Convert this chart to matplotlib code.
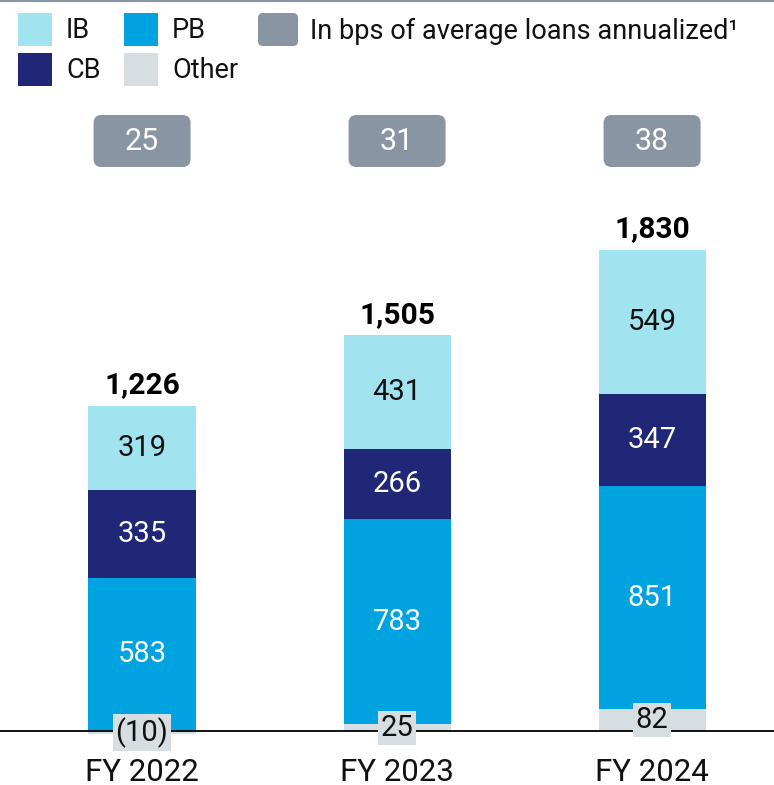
import numpy as np
import matplotlib
matplotlib.use('Agg')
from matplotlib import pyplot as plt
from matplotlib.patches import FancyBboxPatch, Rectangle
from matplotlib.transforms import Affine2D

years = ['FY 2022', 'FY 2023', 'FY 2024']
other = [-10, 25, 82]
pb = [583, 783, 851]
cb = [335, 266, 347]
ib = [319, 431, 549]
totals = ['1,226', '1,505', '1,830']
bps = ['25', '31', '38']

c_ib = '#A2E3F0'
c_pb = '#00A3E0'
c_cb = '#1F2776'
c_other = '#D7DEE1'
c_box = '#8995A2'

plt.rcParams['font.family'] = ['Roboto', 'DejaVu Sans']

W, H = 774, 785
fig = plt.figure(figsize=(W / 100, H / 100), dpi=100)
ax = fig.add_axes([0, 0, 1, 1])
ax.set_xlim(-0.557, 2.478)
ax.set_ylim(-205, 2779)
ax.axis('off')

# pixel coords from top-left
pix = Affine2D().scale(1 / W, -1 / H).translate(0, 1) + fig.transFigure

x = np.arange(len(years))
w = 0.42
other = np.array(other)
pos_other = np.maximum(other, 0)
ax.bar(x, other, w, color=c_other, zorder=2)
ax.bar(x, pb, w, bottom=pos_other, color=c_pb, zorder=2)
b2 = pos_other + np.array(pb)
ax.bar(x, cb, w, bottom=b2, color=c_cb, zorder=2)
b3 = b2 + np.array(cb)
ax.bar(x, ib, w, bottom=b3, color=c_ib, zorder=2)
top = b3 + np.array(ib)

ax.axhline(0, color='black', lw=1.3, zorder=3)

fs = 21
for i in range(len(x)):
    ax.text(x[i], pos_other[i] + pb[i] / 2, str(pb[i]), ha='center', va='center',
            color='white', fontsize=fs, zorder=4)
    ax.text(x[i], b2[i] + cb[i] / 2, str(cb[i]), ha='center', va='center',
            color='white', fontsize=fs, zorder=4)
    ax.text(x[i], b3[i] + ib[i] / 2, str(ib[i]), ha='center', va='center',
            color='#111111', fontsize=fs, zorder=4)
    lab = str(other[i]) if other[i] >= 0 else '(%d)' % abs(other[i])
    ax.text(x[i], other[i] / 2, lab, ha='center', va='center', color='#111111',
            fontsize=fs, zorder=4,
            bbox=dict(boxstyle='square,pad=0.1', fc=c_other, ec='none'))
    ax.annotate(totals[i], (x[i], top[i]), xytext=(0, 9), textcoords='offset points',
                ha='center', va='baseline', fontsize=21.5, fontweight='bold', color='black')
    ax.annotate(years[i], (x[i], 0), xytext=(0, -29.5), textcoords='offset points',
                ha='center', va='center', fontsize=22.5, color='#111111')
    # rounded grey bps boxes
    cx = ax.transData.transform((x[i], 0))[0]
    fig.patches.append(FancyBboxPatch((cx - 48.5, 115), 97, 52,
                                      boxstyle='round,pad=0,rounding_size=8',
                                      fc=c_box, ec='none', transform=pix))
    fig.text(cx / W, 1 - 141 / H, bps[i], ha='center', va='center', color='white',
             fontsize=22)

# legend
items = [(18, 13, c_ib, 'IB'), (124, 13, c_pb, 'PB'),
         (18, 53, c_cb, 'CB'), (124, 53, c_other, 'Other')]
for lx, ly, col, txt in items:
    fig.patches.append(Rectangle((lx, ly), 34, 33, fc=col, ec='none', transform=pix))
    fig.text((lx + 48) / W, 1 - (ly + 18) / H, txt, ha='left', va='center',
             fontsize=19.5, color='#111111')
fig.patches.append(FancyBboxPatch((258, 13), 40, 33, boxstyle='round,pad=0,rounding_size=5',
                                  fc=c_box, ec='none', transform=pix))
fig.text(310 / W, 1 - 31 / H, 'In bps of average loans annualized\u00b9', ha='left',
         va='center', fontsize=19.5, color='#111111')

# thin grey rule at top
fig.lines.append(plt.Line2D([0, 1], [1 - 1 / H, 1 - 1 / H], color=c_box, lw=1.5,
                            transform=fig.transFigure))

fig.savefig('out.png', dpi=100)
